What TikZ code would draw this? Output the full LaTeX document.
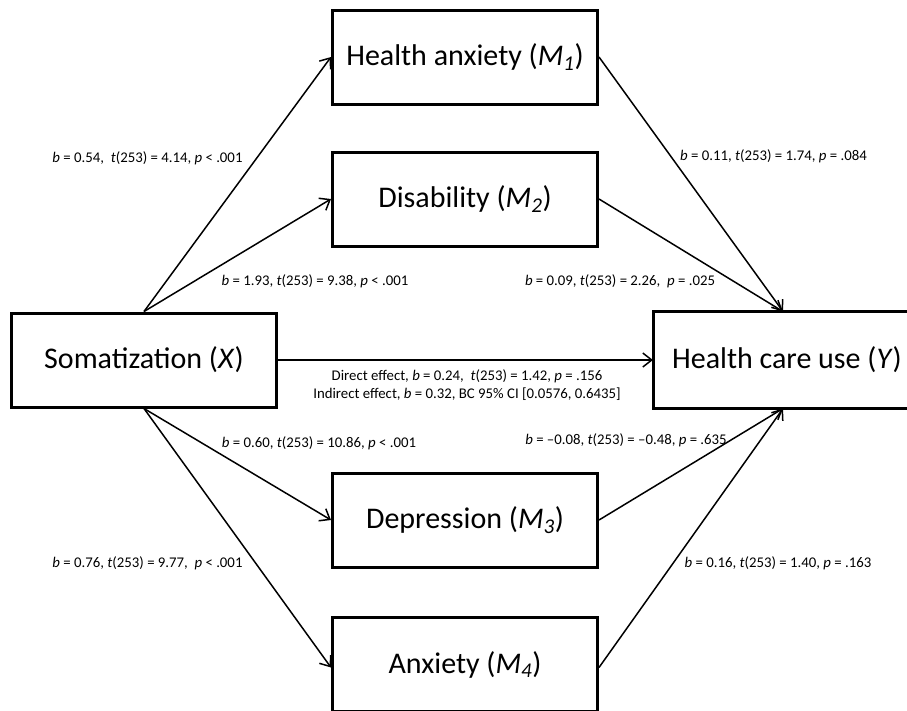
\documentclass[tikz,border=0pt]{standalone}
\usepackage{fontspec}
\setmainfont{Carlito}
\usetikzlibrary{arrows.meta}
\tikzset{
  box/.style={draw, line width=3pt, minimum width=265pt, minimum height=94pt, inner sep=0pt, font=\fontsize{30}{35}\selectfont},
  conn/.style={line width=1.5pt, -{Straight Barb[length=9pt,width=14pt]}},
  lab/.style={font=\fontsize{14.8}{18}\selectfont, inner sep=0pt, align=center}
}
\newcommand{\iv}[1]{\textit{#1}}
\begin{document}
\begin{tikzpicture}[x=1pt,y=-1pt]
\useasboundingbox (0,0) rectangle (907,710);
\clip (0,0) rectangle (907,710);
\fill[white] (0,0) rectangle (907,710);
\node[box] (X) at (144,360) {Somatization (\iv{X})};
\node[box, draw=none] (Y) at (787,360) {Health care use (\iv{Y})};
\draw[line width=3pt] ([xshift=40pt]Y.north east) -- (Y.north west) -- (Y.south west) -- ([xshift=40pt]Y.south east);
\node[box] (M1) at (465,57) {Health anxiety (\iv{M}\textsubscript{\itshape 1})};
\node[box] (M2) at (465,199) {Disability (\iv{M}\textsubscript{\itshape 2})};
\node[box] (M3) at (465,520) {Depression (\iv{M}\textsubscript{\itshape 3})};
\node[box] (M4) at (465,664.5) {Anxiety (\iv{M}\textsubscript{\itshape 4})};
\coordinate (Yt) at ([xshift=-4pt]Y.north);
\coordinate (Yb) at ([xshift=-4pt]Y.south);
\draw[conn] (X.north) -- (M1.west);
\draw[conn] (X.north) -- (M2.west);
\draw[conn] (X.east) -- (Y.west);
\draw[conn] (X.south) -- (M3.west);
\draw[conn] (X.south) -- ([yshift=-3pt]M4.west);
\draw[conn] (M1.east) -- (Yt);
\draw[conn] (M2.east) -- (Yt);
\draw[conn] (M3.east) -- (Yb);
\draw[conn] ([yshift=-3pt]M4.east) -- (Yb);
\node[lab] (l1) at (147.5,158) {\iv{b} = 0.54,\ \ \iv{t}(253) = 4.14, \iv{p} < .001};
\node[lab] (l2) at (315,281) {\iv{b} = 1.93, \iv{t}(253) = 9.38, \iv{p} < .001};
\node[lab] (l3) at (773.5,156) {\iv{b} = 0.11, \iv{t}(253) = 1.74, \iv{p} = .084};
\node[lab] (l4) at (620,281) {\iv{b} = 0.09, \iv{t}(253) = 2.26,\ \ \iv{p} = .025};
\node[lab] (ld) at (467,385) {Direct effect, \iv{b} = 0.24,\ \ \iv{t}(253) = 1.42, \iv{p} = .156\\ Indirect effect, \iv{b} = 0.32, BC 95\% CI [0.0576, 0.6435]};
\node[lab] (l5) at (319,443) {\iv{b} = 0.60, \iv{t}(253) = 10.86, \iv{p} < .001};
\node[lab] (l6) at (626,440) {\iv{b} = --0.08, \iv{t}(253) = --0.48, \iv{p} = .635};
\node[lab] (l7) at (147.5,563) {\iv{b} = 0.76, \iv{t}(253) = 9.77,\ \ \iv{p} < .001};
\node[lab] (l8) at (778,563) {\iv{b} = 0.16, \iv{t}(253) = 1.40, \iv{p} = .163};
\end{tikzpicture}
\end{document}
